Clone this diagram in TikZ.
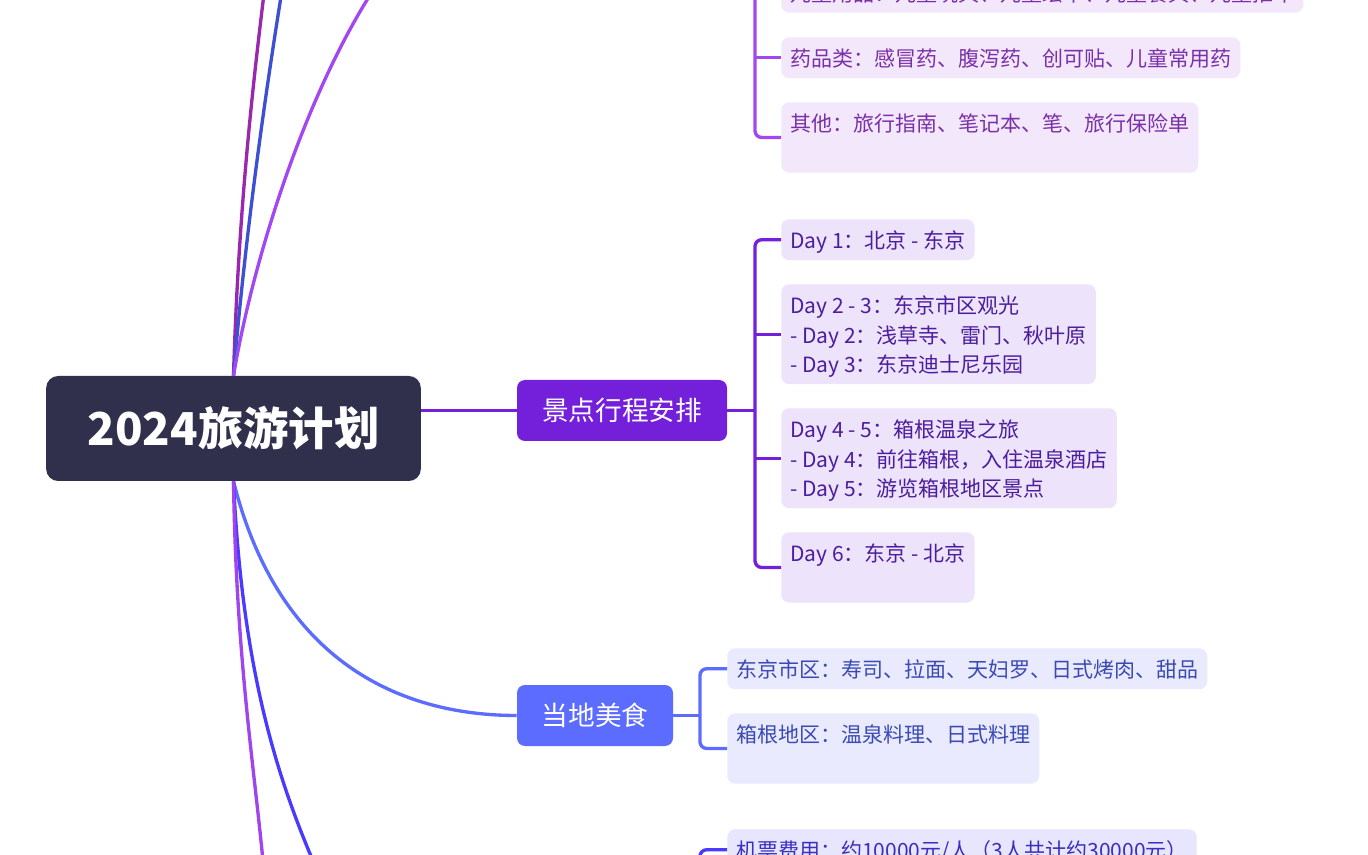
\documentclass[tikz,border=0pt]{standalone}
\usepackage{fontspec}
\setmainfont{Noto Sans CJK SC}
\usepackage{xcolor}
\usepackage{tikz}

\definecolor{rootbg}{HTML}{30304D}
\definecolor{tripc}{HTML}{7420DB}
\definecolor{foodc}{HTML}{5B6CFF}
\definecolor{packc}{HTML}{A347F2}
\definecolor{magc}{HTML}{9B27AF}
\definecolor{bluec}{HTML}{3D4FD2}
\definecolor{costc}{HTML}{4A3AFF}
\definecolor{lowc}{HTML}{A044EE}
\definecolor{packfill}{HTML}{F3E7FB}
\definecolor{packtext}{HTML}{7A30A8}
\definecolor{tripfill}{HTML}{EDE3FB}
\definecolor{triptext}{HTML}{4C1D9C}
\definecolor{foodfill}{HTML}{E9EAFD}
\definecolor{foodtext}{HTML}{3B4AB3}
\definecolor{costfill}{HTML}{E8E6FE}
\definecolor{costtext}{HTML}{3A2FC0}

\newcommand{\hs}{\rule[-4.3pt]{0pt}{22.1pt}}

\begin{document}
\begin{tikzpicture}[x=0.75pt, y=-0.75pt,
    root/.style={fill=rootbg, rounded corners=9pt, text=white,
      font=\fontsize{34}{40}\selectfont\bfseries,
      minimum width=281pt, minimum height=78.75pt},
    branch/.style={rounded corners=6pt, text=white,
      font=\fontsize{20}{24}\selectfont, minimum height=45.75pt},
    leaf/.style={rounded corners=6pt, align=left, inner xsep=6.75pt,
      inner ysep=4.3pt, font=\fontsize{15.75}{22.1}\selectfont},
    link/.style={line width=2.5pt},
    elbow/.style={line width=2.5pt, rounded corners=5pt}]
            \useasboundingbox (0,0) rectangle (1368,855);
            \fill[white] (0,0) rectangle (1368,855);
            \clip (0,0) rectangle (1368,855);

            % Nodes
            \node[root] (root) at (233.5,428.5) {2024旅游计划};
            \node[branch, fill=tripc, minimum width=157.5pt] (jd) at (622,410.5) {景点行程安排};
            \node[branch, fill=foodc, minimum width=117pt] (mf) at (595,715.5) {当地美食};

            % items (packing)
            \node[leaf, fill=packfill, text=packtext, anchor=south west] (et) at (781,13)
                {\hs 儿童用品：儿童玩具、儿童绘本、儿童餐具、儿童推车};
            \node[leaf, fill=packfill, text=packtext, anchor=north west] (yp) at (781,37)
                {\hs 药品类：感冒药、腹泻药、创可贴、儿童常用药};
            \node[leaf, fill=packfill, text=packtext, anchor=north west] (qt) at (781,102)
                {\hs 其他：旅行指南、笔记本、笔、旅行保险单\\\hs};

            % days
            \node[leaf, fill=tripfill, text=triptext, anchor=north west] (d1) at (781,219)
                {\hs Day 1：北京 - 东京};
            \node[leaf, fill=tripfill, text=triptext, anchor=north west] (d23) at (781,284)
                {\hs Day 2 - 3：东京市区观光\\\hs - Day 2：浅草寺、雷门、秋叶原\\\hs - Day 3：东京迪士尼乐园};
            \node[leaf, fill=tripfill, text=triptext, anchor=north west] (d45) at (781,408)
                {\hs Day 4 - 5：箱根温泉之旅\\\hs - Day 4：前往箱根，入住温泉酒店\\\hs - Day 5：游览箱根地区景点};
            \node[leaf, fill=tripfill, text=triptext, anchor=north west] (d6) at (781,532)
                {\hs Day 6：东京 - 北京\\\hs};

            % food
            \node[leaf, fill=foodfill, text=foodtext, anchor=north west] (tk) at (727,648)
                {\hs 东京市区：寿司、拉面、天妇罗、日式烤肉、甜品};
            \node[leaf, fill=foodfill, text=foodtext, anchor=north west] (hk) at (727,713)
                {\hs 箱根地区：温泉料理、日式料理\\\hs};

            % cost
            \node[leaf, fill=costfill, text=costtext, anchor=north west] (jp) at (727,829)
                {\hs 机票费用：约10000元/人（3人共计约30000元）};

            % off-page ends
            \coordinate (packbr) at (517,-120);
            \coordinate (topA) at (268,-40);
            \coordinate (topB) at (287,-40);
            \coordinate (lowA) at (266,900);
            \coordinate (lowB) at (330,900);
            \coordinate (jpdown) at (700,900);

            % Edges
            \draw[link, magc] (root.north) .. controls +(6,-200) and +(-8,70) .. (topA);
            \draw[link, bluec] (root.north) .. controls +(15,-180) and +(-10,60) .. (topB);
            \draw[link, packc] (root.north) .. controls +(30,-180) and +(-140,0) .. (packbr);
            \draw[link, tripc] (jd.west -| root.east) -- (jd.west);
            \draw[link, foodc] (root.south) .. controls +(45,180) and +(-117,0) .. (mf.west);
            \draw[link, costc] (root.south) .. controls +(10,220) and +(-40,-90) .. (lowB);
            \draw[link, lowc] (root.south) .. controls +(3,200) and +(-6,-100) .. (lowA);

            \draw[elbow, packc] (qt.west) -- ++(-26,0) |- (et.west);
            \draw[link, packc] (yp.west) -- ++(-26,0);

            \draw[link, tripc] (jd.east) -- ++(28,0);
            \draw[elbow, tripc] (d1.west) -- ++(-26,0) |- (d6.west);
            \draw[link, tripc] (d23.west) -- ++(-26,0);
            \draw[link, tripc] (d45.west) -- ++(-26,0);

            \draw[link, foodc] (mf.east) -- ++(27,0);
            \draw[elbow, foodc] (tk.west) -- ++(-27,0) |- (hk.west);

            \draw[elbow, costc] (jp.west) -| (jpdown);
        \end{tikzpicture}
\end{document}
